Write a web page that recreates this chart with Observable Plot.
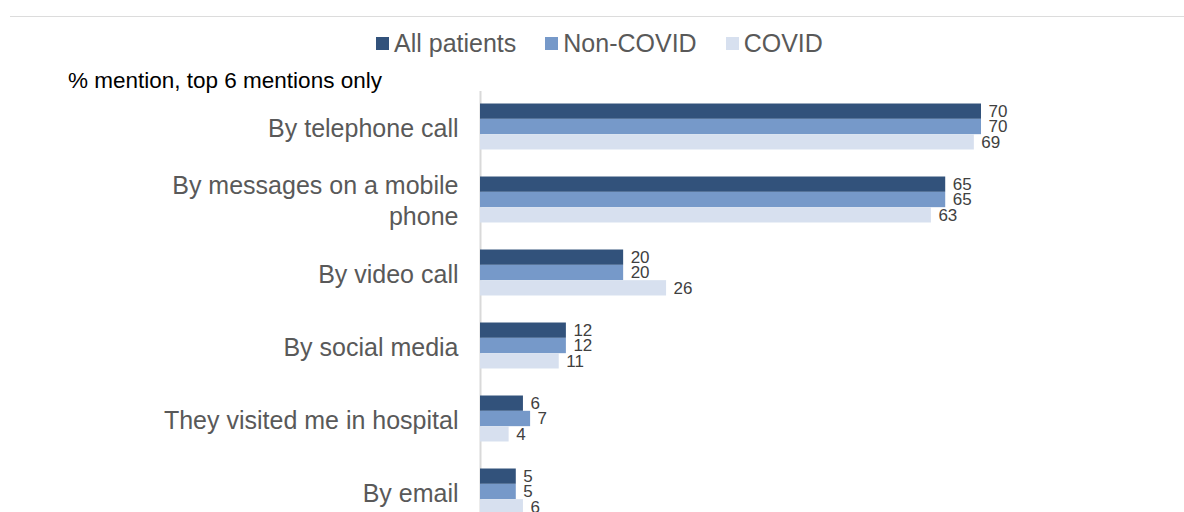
<!DOCTYPE html>
<html><head><meta charset="utf-8">
<script src="https://cdn.jsdelivr.net/npm/d3@7"></script>
<script src="https://cdn.jsdelivr.net/npm/@observablehq/plot@0.6"></script>
<style>
body{margin:0;background:#fff;font-family:"Liberation Sans",Arial,sans-serif;}
#header{position:relative;width:1184px;height:90px;}
#rule{position:absolute;left:10px;right:0;top:16px;height:1px;background:#dcdcdc}
#legend{position:absolute;left:376px;top:28px;display:flex;align-items:center;font-size:25px;color:#595959;line-height:30px;white-space:nowrap}
.item{display:flex;align-items:center;margin-right:29px}
.sw{width:13px;height:13px;margin-right:5px}
#subtitle{position:absolute;left:68px;top:67px;font-size:22.5px;color:#000;line-height:28px;white-space:nowrap}
#chart svg{display:block;overflow:visible}
</style></head>
<body>
<div id="header">
  <div id="rule"></div>
  <div id="legend"></div>
  <div id="subtitle">% mention, top 6 mentions only</div>
</div>
<div id="chart"></div>
<script>
const categories = ["By telephone call","By messages on a mobile phone","By video call","By social media","They visited me in hospital","By email"];
const categoryLabels = ["By telephone call","By messages on a mobile\nphone","By video call","By social media","They visited me in hospital","By email"];
const series = ["All patients","Non-COVID","COVID"];
const allPatients = [70,65,20,12,6,5];
const nonCovid = [70,65,20,12,7,5];
const covid = [69,63,26,11,4,6];
const colors = ["#32527b","#7699c9","#d7e0ef"];

const seriesValues = [allPatients, nonCovid, covid];
const rows = seriesValues.map((vals, k) => categories.map((c, i) => ({category: c, value: vals[i], series: series[k]})));
const labelOf = new Map(categories.map((c, i) => [c, categoryLabels[i]]));

// legend
const legend = document.getElementById("legend");
series.forEach((s, k) => {
  const item = document.createElement("div");
  item.className = "item";
  const sw = document.createElement("span");
  sw.className = "sw";
  sw.style.background = colors[k];
  const t = document.createElement("span");
  t.textContent = s;
  item.appendChild(sw); item.appendChild(t);
  legend.appendChild(item);
});

const barH = 15.33;
const step = 73;
const inset = (step - 3 * barH) / 2;

const chart = Plot.plot({
  width: 1184,
  height: 440,
  marginLeft: 480,
  marginRight: 203,
  marginTop: 1,
  marginBottom: 0,
  x: {domain: [0, 70], axis: null},
  y: {domain: categories, range: [0.1, 0.1 + 6 * step], padding: 0, axis: null},
  style: {fontFamily: '"Liberation Sans", Arial, sans-serif', background: "transparent"},
  marks: [
    Plot.ruleX([0], {stroke: "#d9d9d9", strokeWidth: 2}),
    ...rows.map((data, k) => Plot.barX(data, {
      x: "value", y: "category", fill: colors[k],
      insetTop: inset + k * barH, insetBottom: inset + (2 - k) * barH
    })),
    ...rows.map((data, k) => Plot.text(data, {
      x: "value", y: "category", text: d => String(d.value),
      dx: 7, dy: (k - 1) * barH, textAnchor: "start",
      fontSize: 17, fill: "#404040"
    })),
    Plot.text(categories, {
      x: () => 0, y: d => d, text: d => labelOf.get(d),
      dx: -22, textAnchor: "end", fontSize: 25, fill: "#595959", lineHeight: 1.24
    })
  ]
});
document.getElementById("chart").appendChild(chart);
</script>
</body></html>
